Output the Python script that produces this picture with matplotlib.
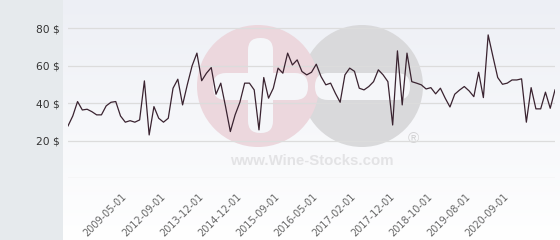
import numpy as np
import matplotlib
matplotlib.use('Agg')
import matplotlib.pyplot as plt
from matplotlib.patches import Circle, FancyBboxPatch

# price per auction, in $
prices = [27.9, 33.2, 40.9, 36.4, 36.8, 35.5, 33.8, 33.8, 38.6, 40.5,
          40.9, 33.2, 29.9, 30.7, 29.9, 31.1, 51.9, 23.1, 38.2, 32.0,
          29.9, 32.0, 48.0, 52.8, 39.1, 50.0, 60.0, 66.7, 52.0, 56.0,
          59.0, 44.8, 50.7, 38.2, 24.9, 33.8, 40.5, 50.7, 50.7, 47.1,
          25.8, 53.7, 42.7, 48.0, 58.7, 56.0, 66.7, 60.4, 63.1, 56.9,
          55.1, 56.5, 60.8, 54.2, 49.8, 50.7, 45.3, 40.5, 55.1, 58.7,
          57.0, 48.0, 47.1, 48.9, 51.5, 57.8, 55.1, 51.5, 28.4, 67.9,
          39.1, 66.7, 51.5, 50.7, 49.8, 47.6, 48.3, 45.0, 48.0, 42.7,
          38.0, 44.8, 47.0, 48.9, 46.6, 43.5, 56.5, 43.0, 76.4, 64.9,
          53.7, 50.1, 50.7, 52.4, 52.4, 53.0, 29.9, 48.3, 37.0, 37.0,
          45.9, 37.3, 47.1]

tick_labels = ['2009-05-01', '2012-09-01', '2013-12-01', '2014-12-01',
               '2015-09-01', '2016-05-01', '2017-02-01', '2017-12-01',
               '2018-10-01', '2019-08-01', '2020-09-01']
first_tick = 12
tick_step = 8

y_ticks = [20, 40, 60, 80]

W, H = 560, 240
fig = plt.figure(figsize=(W / 100, H / 100), dpi=100)
fig.patch.set_facecolor('#e6eaed')

# gradient plot background
bg = fig.add_axes([63 / W, 0, (W - 63) / W, 1], zorder=0)
grad = np.linspace(0, 1, 256).reshape(-1, 1)
top = np.array([237, 239, 245]) / 255
bottom = np.array([255, 255, 255]) / 255
img = top + (bottom - top) * grad[..., None]
bg.imshow(np.repeat(img, 2, axis=1), aspect='auto', extent=[0, 1, 0, 1], origin='upper')
bg.axis('off')

# watermark, in pixel coordinates
wm = fig.add_axes([0, 0, 1, 1], zorder=1)
wm.set_xlim(0, W)
wm.set_ylim(H, 0)
wm.axis('off')
wm.patch.set_alpha(0)
wm.add_patch(Circle((362, 86), 61, color='#d9d9db', lw=0))
wm.add_patch(Circle((258, 86), 61, color='#ecd7dd', lw=0))
white = '#f5f6f9'
wm.add_patch(FancyBboxPatch((248, 38), 25, 95, boxstyle='round,pad=0,rounding_size=12',
                            color=white, lw=0))
wm.add_patch(FancyBboxPatch((213, 73), 95, 27, boxstyle='round,pad=0,rounding_size=13',
                            color=white, lw=0))
wm.add_patch(FancyBboxPatch((315, 73), 95, 27, boxstyle='round,pad=0,rounding_size=13',
                            color=white, lw=0))
wm.text(312, 161, 'www.Wine-Stocks.com', ha='center', va='center', fontsize=10.8,
        fontweight='bold', family='Liberation Sans', color='#e3e3e5')
wm.text(413, 139, '\u00ae', ha='center', va='center', fontsize=11,
        family='Liberation Sans', color='#d3d3d5')

# main chart
ax = fig.add_axes([68 / W, (H - 178.3) / H, 487 / W, 178.3 / H], zorder=2)
ax.patch.set_alpha(0)
x = np.arange(len(prices))
ax.plot(x, prices, color='#3a2330', lw=0.9, zorder=3)
ax.set_xlim(0, len(prices) - 1)
ax.set_ylim(0, 95)

ax.set_yticks(y_ticks)
ax.set_yticklabels([f'{v} $' for v in y_ticks], fontsize=7.7, color='#333333')
for v in [0] + y_ticks:
    ax.axhline(v, color='#dcdcdc', lw=0.9, zorder=1)

ax.set_xticks(np.arange(len(tick_labels)) * tick_step + first_tick)
ax.set_xticklabels(tick_labels, rotation=45, ha='right', va='center',
                   rotation_mode='anchor', fontsize=7, color='#666666')
ax.tick_params(axis='both', length=0)
ax.tick_params(axis='x', pad=12)
ax.tick_params(axis='y', pad=6)
for s in ax.spines.values():
    s.set_visible(False)

fig.savefig('out.png', dpi=100)
